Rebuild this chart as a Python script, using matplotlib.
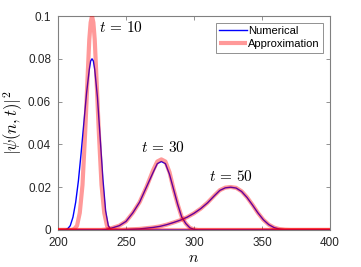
import matplotlib
matplotlib.use("Agg")
import matplotlib.pyplot as plt

plt.rcParams['font.family'] = ['Liberation Sans', 'DejaVu Sans']
plt.rcParams['mathtext.fontset'] = 'cm'

# t = 10
n10_num = [200, 205, 207, 209, 211, 213, 215, 217, 219, 221, 223, 224, 225, 226, 227, 229, 231, 233, 235, 237, 239, 400]
p10_num = [0, 0, 0.0005, 0.002, 0.006, 0.013, 0.023, 0.036, 0.050, 0.064, 0.075, 0.079, 0.080, 0.079, 0.075, 0.062, 0.043, 0.024, 0.009, 0.002, 0, 0]
n10_app = [200, 210, 212, 214, 216, 218, 220, 222, 223, 224, 225, 226, 227, 228, 230, 232, 234, 236, 238, 400]
p10_app = [0, 0, 0.0005, 0.002, 0.008, 0.021, 0.046, 0.075, 0.089, 0.097, 0.100, 0.097, 0.089, 0.075, 0.046, 0.021, 0.008, 0.002, 0, 0]
# t = 30
n30_num = [200, 232, 236, 240, 245, 250, 255, 260, 265, 270, 273, 276, 279, 282, 285, 288, 291, 294, 297, 300, 303, 400]
p30_num = [0, 0, 0.0003, 0.001, 0.002, 0.004, 0.008, 0.013, 0.020, 0.027, 0.031, 0.032, 0.031, 0.026, 0.019, 0.012, 0.006, 0.003, 0.001, 0.0003, 0, 0]
n30_app = [200, 232, 236, 240, 245, 250, 255, 260, 265, 270, 273, 276, 279, 282, 285, 288, 291, 294, 297, 300, 303, 400]
p30_app = [0, 0, 0.0003, 0.001, 0.002, 0.004, 0.008, 0.013, 0.020, 0.028, 0.032, 0.033, 0.032, 0.027, 0.019, 0.012, 0.006, 0.003, 0.001, 0.0003, 0, 0]
# t = 50
n50_num = [200, 245, 250, 260, 270, 275, 280, 285, 290, 295, 300, 305, 310, 315, 319, 323, 327, 331, 335, 339, 343, 347, 351, 355, 359, 363, 367, 371, 400]
p50_num = [0, 0, 0.0002, 0.0005, 0.0012, 0.0017, 0.0025, 0.0035, 0.0046, 0.006, 0.0078, 0.0100, 0.0127, 0.0160, 0.0185, 0.0197, 0.0200, 0.0196, 0.0180, 0.0152, 0.0117, 0.0080, 0.0048, 0.0025, 0.0011, 0.0004, 0.0001, 0, 0]
n50_app = n50_num
p50_app = [0, 0, 0.0002, 0.0005, 0.0012, 0.0017, 0.0025, 0.0035, 0.0046, 0.006, 0.0078, 0.0100, 0.0128, 0.0161, 0.0186, 0.0198, 0.0201, 0.0197, 0.0181, 0.0153, 0.0118, 0.0080, 0.0048, 0.0025, 0.0011, 0.0004, 0.0001, 0, 0]

labels = [r'$t\,=\,10$', r'$t\,=\,30$', r'$t\,=\,50$']
label_x = [246, 277, 327.5]
label_y = [0.0945, 0.0385, 0.0250]

fig = plt.figure(figsize=(3.61, 2.67), dpi=100)
ax = fig.add_axes([0.1607, 0.1386, 0.914 - 0.1607, 0.940 - 0.1386])

num_data = [(n10_num, p10_num), (n30_num, p30_num), (n50_num, p50_num)]
app_data = [(n10_app, p10_app), (n30_app, p30_app), (n50_app, p50_app)]
for i, (n, p) in enumerate(num_data):
    ax.plot(n, p, color='#0000ff', lw=1.0, label='Numerical' if i == 0 else None, zorder=2)
for i, (n, p) in enumerate(app_data):
    ax.plot(n, p, color=(1, 0, 0, 0.4), lw=3.0, label='Approximation' if i == 0 else None, zorder=3,
            solid_capstyle='butt')

for s, x, y in zip(labels, label_x, label_y):
    ax.text(x, y, s, ha='center', va='center', fontsize=11)

ax.set_xlim(200, 400)
ax.set_ylim(0, 0.1)
ax.set_xticks([200, 250, 300, 350, 400])
ax.set_yticks([0, 0.02, 0.04, 0.06, 0.08, 0.1])
ax.set_yticklabels(['0', '0.02', '0.04', '0.06', '0.08', '0.1'])
ax.tick_params(direction='in', top=True, right=True, length=3, width=0.6,
               colors='#808080', labelcolor='#262626', labelsize=8.5)
ax.tick_params(axis='x', pad=5)
ax.tick_params(axis='y', pad=5)
for sp in ax.spines.values():
    sp.set_color('#808080')
    sp.set_linewidth(0.8)
ax.set_xlabel(r'$n$', fontsize=11.5, labelpad=1)
ax.set_ylabel(r'$|\psi(n,t)|^2$', fontsize=12, labelpad=2)

leg = ax.legend(loc='upper right', fontsize=8, handlelength=2.5, handletextpad=0.15,
                borderaxespad=0.6, borderpad=0.3, labelspacing=0.3, fancybox=False,
                framealpha=1, edgecolor='#808080')
leg.get_frame().set_linewidth(0.6)

fig.savefig('out.png', dpi=100)
